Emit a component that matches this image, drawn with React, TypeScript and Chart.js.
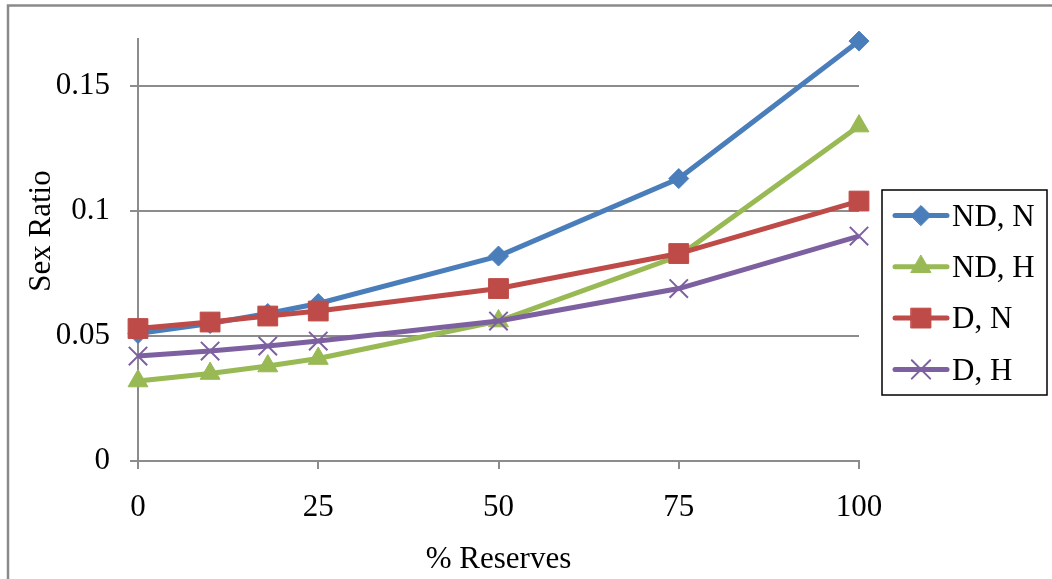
import React, { useEffect, useRef } from 'react';
import { Chart, registerables } from 'chart.js';
import { drawPoint } from 'chart.js/helpers';

Chart.register(...registerables);

// ---- data ----
const reserves = [0, 10, 18, 25, 50, 75, 100];
const ndN = [0.051, 0.055, 0.059, 0.063, 0.082, 0.113, 0.168];
const ndH = [0.032, 0.035, 0.038, 0.041, 0.056, 0.082, 0.134];
const dN = [0.053, 0.0556, 0.058, 0.06, 0.069, 0.083, 0.104];
const dH = [0.042, 0.044, 0.046, 0.048, 0.056, 0.069, 0.09];
const seriesNames = ['ND, N', 'ND, H', 'D, N', 'D, H'];
const xTickValues = [0, 25, 50, 75, 100];
const yTickValues = [0, 0.05, 0.1, 0.15];
const xTitle = '% Reserves';
const yTitle = 'Sex Ratio';

const FONT = "'Liberation Serif', 'Times New Roman', serif";
const FS = 31;
const GRID = '#8c8c8c';

const styles = [
  { color: '#4a7ebb', pointStyle: 'rectRot', radius: 10, pbw: 1 },
  { color: '#98b954', pointStyle: 'triangle', radius: 11.5, pbw: 1 },
  { color: '#be4b48', pointStyle: 'rect', radius: 14, pbw: 1 },
  { color: '#7d60a0', pointStyle: 'crossRot', radius: 13, pbw: 2 },
];

const seriesValues = [ndN, ndH, dN, dH];

const decorPlugin = {
  id: 'decor',
  afterDraw(chart: any) {
    const ctx = chart.ctx as CanvasRenderingContext2D;
    ctx.save();
    // outer frame
    ctx.strokeStyle = '#8a8a8a';
    ctx.lineWidth = 2.5;
    ctx.strokeRect(8, 5.5, 1100, 700);

    // axis titles
    ctx.fillStyle = '#000';
    ctx.font = `${FS}px ${FONT}`;
    ctx.textAlign = 'center';
    ctx.textBaseline = 'middle';
    ctx.fillText(xTitle, (chart.chartArea.left + chart.chartArea.right) / 2, 560);
    ctx.save();
    ctx.translate(42, 231);
    ctx.rotate(-Math.PI / 2);
    ctx.fillText(yTitle, 0, 0);
    ctx.restore();

    // legend
    ctx.strokeStyle = '#000';
    ctx.lineWidth = 1.5;
    ctx.strokeRect(882, 190, 165, 205);
    seriesNames.forEach((name, i) => {
      const s = styles[i];
      const y = 215.5 + i * 51.3;
      ctx.strokeStyle = s.color;
      ctx.fillStyle = s.color;
      ctx.lineWidth = 5;
      ctx.lineCap = 'round';
      ctx.beginPath();
      ctx.moveTo(895, y);
      ctx.lineTo(947, y);
      ctx.stroke();
      ctx.lineWidth = s.pbw;
      drawPoint(ctx, { pointStyle: s.pointStyle as any, radius: s.radius, rotation: 0, borderWidth: s.pbw }, 921, y);
      ctx.fillStyle = '#000';
      ctx.textAlign = 'left';
      ctx.textBaseline = 'middle';
      ctx.font = `${FS}px ${FONT}`;
      ctx.fillText(name, 952, y + 2);
    });
    ctx.restore();
  },
};

export default function App() {
  const ref = useRef<HTMLCanvasElement | null>(null);

  useEffect(() => {
    if (!ref.current) return;
    const datasets = seriesNames.map((name, i) => ({
      label: name,
      data: reserves.map((x, j) => ({ x, y: seriesValues[i][j] })),
      borderColor: styles[i].color,
      backgroundColor: styles[i].color,
      borderWidth: 5,
      pointStyle: styles[i].pointStyle,
      pointRadius: styles[i].radius,
      pointBorderWidth: styles[i].pbw,
      pointBorderColor: styles[i].color,
      pointBackgroundColor: styles[i].color,
      tension: 0,
      clip: false,
      order: 3 - i,
    }));

    const chart = new Chart(ref.current, {
      type: 'line',
      data: { datasets } as any,
      options: {
        responsive: false,
        animation: false,
        events: [],
        layout: { padding: { left: 0, top: 38, right: 193, bottom: 0 } },
        plugins: { legend: { display: false }, tooltip: { enabled: false } },
        scales: {
          x: {
            type: 'linear',
            min: 0,
            max: 100,
            afterFit: (s: any) => { s.height = 118; },
            afterBuildTicks: (s: any) => { s.ticks = xTickValues.map((v) => ({ value: v })); },
            border: { display: true, color: GRID, width: 2 },
            grid: { drawOnChartArea: false, drawTicks: true, tickLength: 8, color: GRID, lineWidth: 2 },
            ticks: {
              color: '#000',
              font: { family: FONT, size: FS },
              padding: 20,
              maxRotation: 0,
              callback: (v: any) => String(v),
            },
          },
          y: {
            type: 'linear',
            min: 0,
            max: 0.169,
            afterFit: (s: any) => { s.width = 138; },
            afterBuildTicks: (s: any) => { s.ticks = yTickValues.map((v) => ({ value: v })); },
            border: { display: true, color: GRID, width: 2 },
            grid: { drawOnChartArea: true, drawTicks: true, tickLength: 8, color: GRID, lineWidth: 2 },
            ticks: {
              color: '#000',
              font: { family: FONT, size: FS },
              padding: 20,
              callback: (v: any) => String(+Number(v).toFixed(3)),
            },
          },
        },
      },
      plugins: [decorPlugin],
    });
    return () => chart.destroy();
  }, []);

  return (
    <div style={{ position: 'fixed', left: 0, top: 0, width: 1052, height: 579, background: '#fff' }}>
      <canvas ref={ref} width={1052} height={579} style={{ display: 'block', width: 1052, height: 579 }} />
    </div>
  );
}
